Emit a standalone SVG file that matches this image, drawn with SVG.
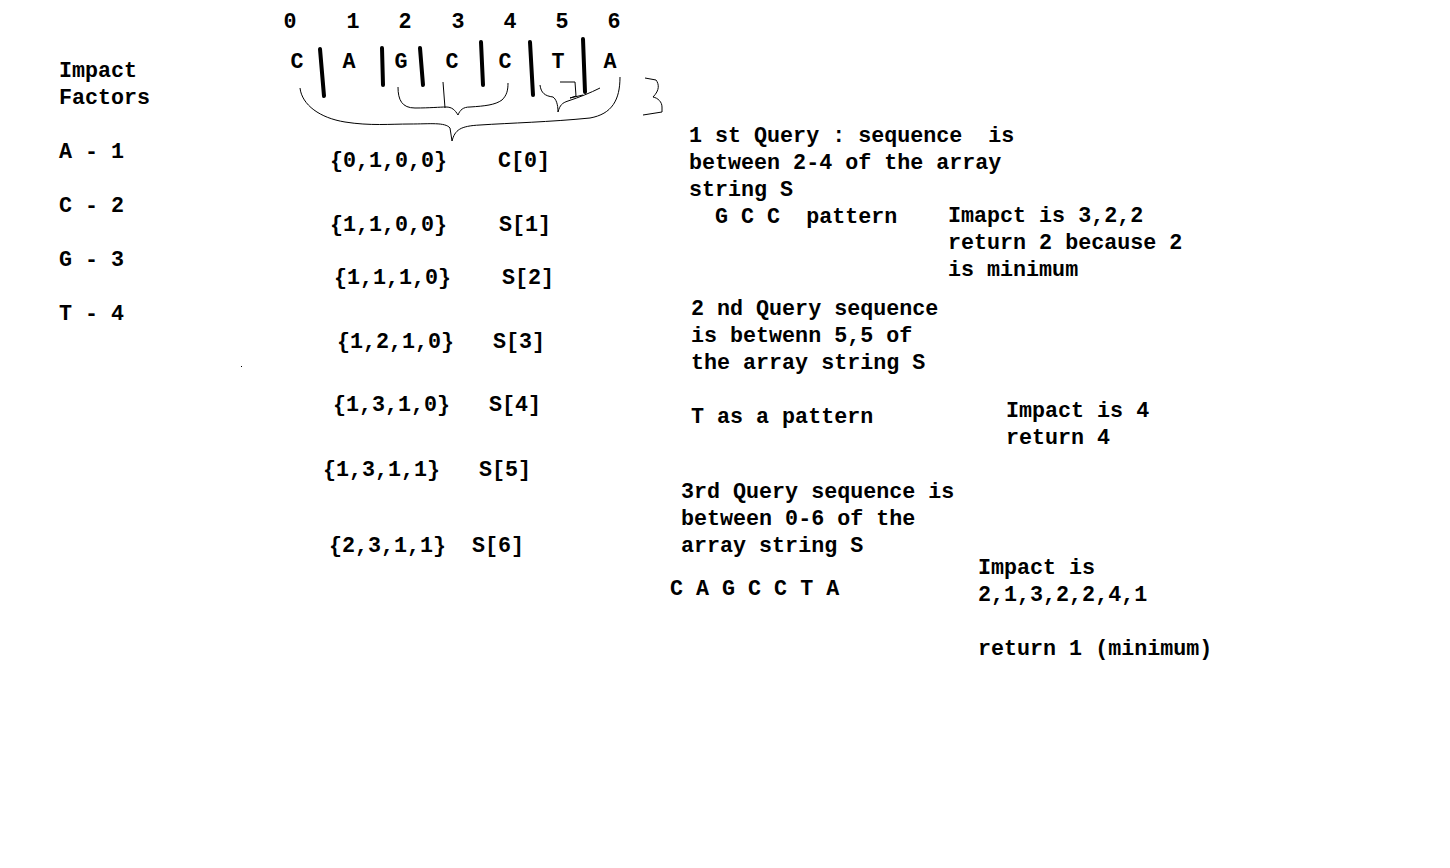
<svg xmlns="http://www.w3.org/2000/svg" width="1450" height="868" viewBox="0 0 1450 868">
<style>
text{font-family:"Liberation Mono","DejaVu Sans Mono",monospace;font-size:21.7px;font-weight:bold;fill:#000;white-space:pre}
.c{text-anchor:middle}
.bar{stroke:#000;stroke-width:4;stroke-linecap:round;fill:none}
.br{stroke:#000;stroke-width:1;fill:none}
</style>
<rect width="1450" height="868" fill="#fff"/>
<g id="impact-factors">
<text x="59" y="77">Impact</text>
<text x="59" y="104">Factors</text>
<text x="59" y="158">A - 1</text>
<text x="59" y="212">C - 2</text>
<text x="59" y="266">G - 3</text>
<text x="59" y="320">T - 4</text>
</g>
<g id="indices">
<text class="c" x="290" y="28">0</text>
<text class="c" x="353" y="28">1</text>
<text class="c" x="405" y="28">2</text>
<text class="c" x="458" y="28">3</text>
<text class="c" x="510" y="28">4</text>
<text class="c" x="562" y="28">5</text>
<text class="c" x="614" y="28">6</text>
</g>
<g id="letters">
<text class="c" x="297" y="68">C</text>
<text class="c" x="349" y="68">A</text>
<text class="c" x="401" y="68">G</text>
<text class="c" x="452" y="68">C</text>
<text class="c" x="505" y="68">C</text>
<text class="c" x="558" y="68">T</text>
<text class="c" x="610" y="68">A</text>
</g>
<g id="separators">
<line class="bar" x1="320" y1="49" x2="324" y2="96"/>
<line class="bar" x1="382" y1="48" x2="383" y2="85"/>
<line class="bar" x1="420" y1="48" x2="423" y2="85"/>
<line class="bar" x1="481" y1="42" x2="483" y2="85"/>
<line class="bar" x1="530" y1="42" x2="533" y2="95"/>
<line class="bar" x1="583" y1="39" x2="585" y2="92"/>
</g>
<g id="connectors">
<path class="br" d="M300 88 C302 105 320 118 345 122 C370 126 390 124 410 124 C430 124 445 122 450 128 L452 141 M452 141 C455 130 460 126 480 125 C510 123 550 122 590 118 C612 114 620 100 620 77"/>
<path class="br" d="M398 87 C398 100 402 108 415 108 C430 108 440 107 446 107 C452 107 455 110 458 115 C460 110 463 107 470 107 C485 106 495 105 502 100 C507 95 508 90 508 83"/>
<path class="br" d="M443 82 L445 108"/>
<path class="br" d="M540 85 C541 93 545 96 553 97 C556 99 558 104 558 112 C560 105 562 103 568 101 C580 97 590 93 600 88"/>
<path class="br" d="M560 82 L575 82 L576 96 L570 98 L583 95"/>
<path class="br" d="M645 78 L656 80 C659 84 660 90 653 97 C658 98 662 102 662 107 L662 112 L643 115"/>
<rect x="241" y="366" width="1" height="1" fill="#000"/>
</g>
<g id="prefix-rows">
<text x="330" y="167">{0,1,0,0}</text><text x="498" y="167">C[0]</text>
<text x="330" y="231">{1,1,0,0}</text><text x="499" y="231">S[1]</text>
<text x="334" y="284">{1,1,1,0}</text><text x="502" y="284">S[2]</text>
<text x="337" y="348">{1,2,1,0}</text><text x="493" y="348">S[3]</text>
<text x="333" y="411">{1,3,1,0}</text><text x="489" y="411">S[4]</text>
<text x="323" y="476">{1,3,1,1}</text><text x="479" y="476">S[5]</text>
<text x="329" y="552">{2,3,1,1}</text><text x="472" y="552">S[6]</text>
</g>
<g id="query1">
<text x="689" y="142">1 st Query : sequence  is</text>
<text x="689" y="169">between 2-4 of the array</text>
<text x="689" y="196">string S</text>
<text x="689" y="223">  G C C  pattern</text>
<text x="948" y="222">Imapct is 3,2,2</text>
<text x="948" y="249">return 2 because 2</text>
<text x="948" y="276">is minimum</text>
</g>
<g id="query2">
<text x="691" y="315">2 nd Query sequence</text>
<text x="691" y="342">is betwenn 5,5 of</text>
<text x="691" y="369">the array string S</text>
<text x="691" y="423">T as a pattern</text>
<text x="1006" y="417">Impact is 4</text>
<text x="1006" y="444">return 4</text>
</g>
<g id="query3">
<text x="681" y="498">3rd Query sequence is</text>
<text x="681" y="525">between 0-6 of the</text>
<text x="681" y="552">array string S</text>
<text x="670" y="595">C A G C C T A</text>
<text x="978" y="574">Impact is</text>
<text x="978" y="601">2,1,3,2,2,4,1</text>
<text x="978" y="655">return 1 (minimum)</text>
</g>
</svg>
